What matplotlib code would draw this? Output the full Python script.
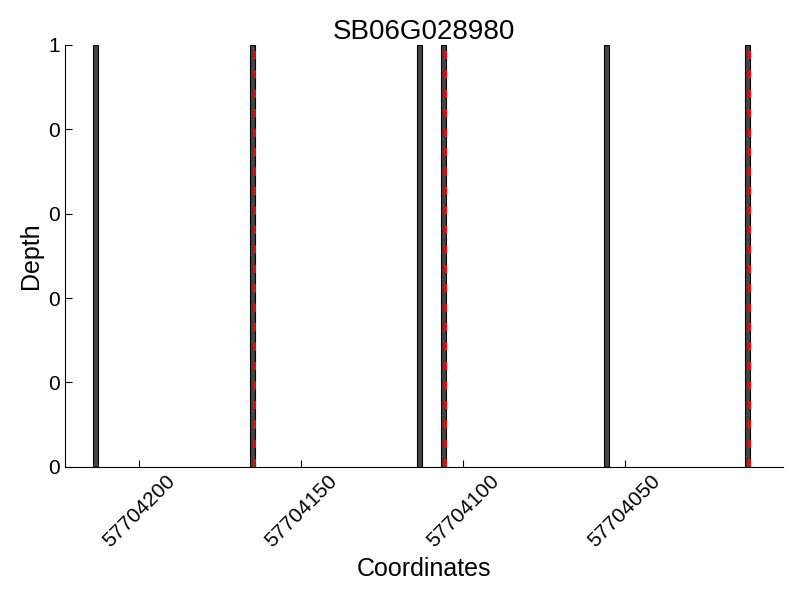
import matplotlib as mpl

mpl.use('Agg')
import matplotlib.pyplot as plt
from matplotlib.ticker import FormatStrFormatter

plt.rcParams['font.family'] = ['Liberation Sans', 'DejaVu Sans']

gene = 'SB06G028980'
# read coverage positions (bar centres) and depth
bar_pos = [57704213.4, 57704164.9, 57704113.5, 57704106.0, 57704055.6, 57704012.1]
bar_depth = [1, 1, 1, 1, 1, 1]
# marked sites (red dashed)
site_pos = [57704164.4, 57704105.5, 57704011.5]
x_ticks = [57704200, 57704150, 57704100, 57704050]
y_ticks = [0, 0.2, 0.4, 0.6, 0.8, 1.0]

fig = plt.figure(figsize=(8, 6), dpi=100)
ax = fig.add_subplot(111)
fig.subplots_adjust(left=0.081, right=0.979, top=0.925, bottom=0.222)

ax.bar(bar_pos, bar_depth, width=1.5, color='#444444', edgecolor='black', linewidth=0.8)
for s in site_pos:
    ax.axvline(s, color='red', linestyle=(0, (3, 4)), linewidth=2)

ax.set_xlim(57704223, 57704001)
ax.set_ylim(0, 1)
ax.set_xticks(x_ticks)
ax.set_xticklabels([str(t) for t in x_ticks], rotation=45)
ax.set_yticks(y_ticks)
ax.yaxis.set_major_formatter(FormatStrFormatter('%d'))
ax.tick_params(direction='in', labelsize=15, length=5, top=False, right=False)

ax.spines['top'].set_visible(False)
ax.spines['right'].set_visible(False)

ax.set_xlabel('Coordinates', fontsize=18)
ax.set_ylabel('Depth', fontsize=18)
ax.set_title(gene, fontsize=20, pad=2)

plt.savefig('out.png')
